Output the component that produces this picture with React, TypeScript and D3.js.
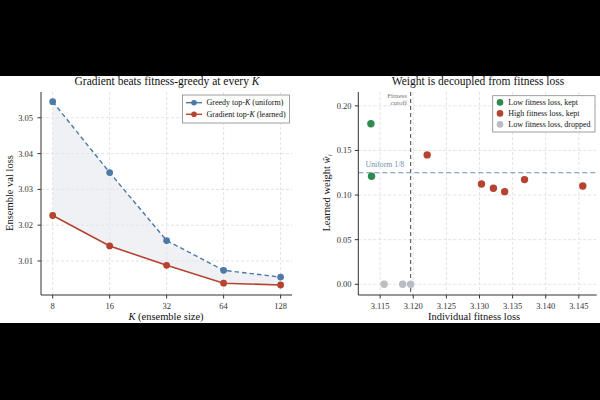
import { useEffect, useRef } from 'react';
import * as d3 from 'd3';

const ensembleSizes = [8, 16, 32, 64, 128];
const greedyLoss = [3.0545, 3.0347, 3.0157, 3.0074, 3.0055];
const gradientLoss = [3.0227, 3.0142, 3.0088, 3.0038, 3.0033];
const lossTicks = [3.01, 3.02, 3.03, 3.04, 3.05];

const fitnessLoss = [3.1136, 3.1137, 3.1221, 3.1303, 3.1321, 3.1338, 3.1368, 3.1456, 3.1156, 3.1184, 3.1196];
const learnedWeight = [0.18, 0.121, 0.145, 0.1124, 0.1076, 0.1038, 0.1173, 0.1102, 0, 0, 0];
const pointGroup = ['low', 'low', 'high', 'high', 'high', 'high', 'high', 'high', 'dropped', 'dropped', 'dropped'];
const fitnessTicks = [3.115, 3.12, 3.125, 3.13, 3.135, 3.14, 3.145];
const weightTicks = [0, 0.05, 0.1, 0.15, 0.2];
const fitnessCutoff = 3.1196;
const uniformWeight = 1 / 8;

const groupLabels = ['Low fitness loss, kept', 'High fitness loss, kept', 'Low fitness loss, dropped'];
const groupKeys = ['low', 'high', 'dropped'];

const BLUE = '#4e79a7';
const RED = '#b5432f';
const GREEN = '#2e8b4f';
const GRAY = '#b9bec4';
const FONT = '"Liberation Serif", "DejaVu Serif", serif';

export default function App() {
  const ref = useRef<SVGSVGElement>(null);

  useEffect(() => {
    if (!ref.current) return;
    const svg = d3.select(ref.current);
    svg.selectAll('*').remove();

    svg.append('rect').attr('width', 600).attr('height', 400).attr('fill', '#000');
    svg.append('rect').attr('y', 76).attr('width', 600).attr('height', 247).attr('fill', '#fff');

    const grid = (g: d3.Selection<SVGGElement, unknown, null, undefined>, x1: number, y1: number, x2: number, y2: number) =>
      g.append('line')
        .attr('x1', x1).attr('y1', y1).attr('x2', x2).attr('y2', y2)
        .attr('stroke', '#dcdcdc').attr('stroke-width', 0.8).attr('stroke-dasharray', '3,2');

    const spines = (g: d3.Selection<SVGGElement, unknown, null, undefined>, x0: number, x1: number, y0: number, y1: number) => {
      g.append('line').attr('x1', x0).attr('x2', x0).attr('y1', y0).attr('y2', y1).attr('stroke', '#333').attr('stroke-width', 1);
      g.append('line').attr('x1', x0).attr('x2', x1).attr('y1', y1).attr('y2', y1).attr('stroke', '#333').attr('stroke-width', 1);
    };

    // ---- left panel: ensemble loss vs K
    const L = svg.append('g');
    const x = d3.scaleLog().base(2).domain([8 / Math.pow(2, 0.205), 128 * Math.pow(2, 0.2)]).range([41, 292]);
    const y = d3.scaleLinear().domain([3.0005, 3.0572]).range([295, 92]);

    ensembleSizes.forEach((k) => grid(L, x(k), 92, x(k), 295));
    lossTicks.forEach((t) => grid(L, 41, y(t), 292, y(t)));

    const pts = ensembleSizes.map((k, i) => ({ k, g: greedyLoss[i], r: gradientLoss[i] }));
    const band = d3.area<typeof pts[number]>()
      .x((d) => x(d.k)).y0((d) => y(d.r)).y1((d) => y(d.g));
    L.append('path').datum(pts).attr('d', band).attr('fill', '#e4e8ec').attr('opacity', 0.6);

    const greedyLine = d3.line<typeof pts[number]>().x((d) => x(d.k)).y((d) => y(d.g));
    const gradLine = d3.line<typeof pts[number]>().x((d) => x(d.k)).y((d) => y(d.r));
    L.append('path').datum(pts).attr('d', greedyLine).attr('fill', 'none')
      .attr('stroke', BLUE).attr('stroke-width', 1.4).attr('stroke-dasharray', '4.5,3');
    L.append('path').datum(pts).attr('d', gradLine).attr('fill', 'none')
      .attr('stroke', RED).attr('stroke-width', 1.6);
    L.selectAll('circle.g').data(pts).enter().append('circle')
      .attr('cx', (d) => x(d.k)).attr('cy', (d) => y(d.g)).attr('r', 3.4).attr('fill', BLUE);
    L.selectAll('circle.r').data(pts).enter().append('circle')
      .attr('cx', (d) => x(d.k)).attr('cy', (d) => y(d.r)).attr('r', 3.4).attr('fill', RED);

    spines(L, 41, 292, 92, 295);

    L.selectAll('.xt').data(ensembleSizes).enter().append('line')
      .attr('x1', (d) => x(d)).attr('x2', (d) => x(d)).attr('y1', 295).attr('y2', 298.5).attr('stroke', '#333');
    L.selectAll('.xl').data(ensembleSizes).enter().append('text')
      .attr('x', (d) => x(d)).attr('y', 308.5).attr('text-anchor', 'middle')
      .attr('font-size', 8.5).attr('fill', '#333').attr('font-family', FONT).text((d) => d);
    L.selectAll('.yt').data(lossTicks).enter().append('line')
      .attr('x1', 37.5).attr('x2', 41).attr('y1', (d) => y(d)).attr('y2', (d) => y(d)).attr('stroke', '#333');
    L.selectAll('.yl').data(lossTicks).enter().append('text')
      .attr('x', 33).attr('y', (d) => y(d) + 3).attr('text-anchor', 'end')
      .attr('font-size', 8.5).attr('fill', '#333').attr('font-family', FONT).text((d) => d.toFixed(2));

    const lt = L.append('text').attr('x', 167).attr('y', 85).attr('text-anchor', 'middle')
      .attr('font-size', 11.5).attr('font-family', FONT).attr('fill', '#111');
    lt.append('tspan').text('Gradient beats fitness-greedy at every ');
    lt.append('tspan').attr('font-style', 'italic').text('K');

    const lx = L.append('text').attr('x', 166).attr('y', 320).attr('text-anchor', 'middle')
      .attr('font-size', 10.5).attr('font-family', FONT).attr('fill', '#111');
    lx.append('tspan').attr('font-style', 'italic').text('K');
    lx.append('tspan').text(' (ensemble size)');

    L.append('text').attr('transform', 'translate(13,193) rotate(-90)').attr('text-anchor', 'middle')
      .attr('font-size', 10.5).attr('font-family', FONT).attr('fill', '#111').text('Ensemble val loss');

    // legend
    L.append('rect').attr('x', 182.5).attr('y', 95).attr('width', 107).attr('height', 28)
      .attr('fill', '#fff').attr('stroke', '#888').attr('stroke-width', 0.8);
    [
      { c: BLUE, pre: 'Greedy top-', post: ' (uniform)' },
      { c: RED, pre: 'Gradient top-', post: ' (learned)' },
    ].forEach((e, i) => {
      const ly = 102.7 + i * 11.6;
      L.append('line').attr('x1', 186).attr('x2', 202).attr('y1', ly).attr('y2', ly).attr('stroke', e.c).attr('stroke-width', 1.4);
      L.append('circle').attr('cx', 194).attr('cy', ly).attr('r', 2.8).attr('fill', e.c);
      const t = L.append('text').attr('x', 206.5).attr('y', ly + 2.7)
        .attr('font-size', 8).attr('font-family', FONT).attr('fill', '#111');
      t.append('tspan').text(e.pre);
      t.append('tspan').attr('font-style', 'italic').text('K');
      t.append('tspan').text(e.post);
    });

    // ---- right panel: learned weight vs fitness loss
    const R = svg.append('g');
    const x2 = d3.scaleLinear().domain([3.1117, 3.1477]).range([358.3, 596.7]);
    const y2 = d3.scaleLinear().domain([-0.012, 0.2155]).range([295, 92]);

    fitnessTicks.forEach((t) => grid(R, x2(t), 92, x2(t), 295));
    weightTicks.forEach((t) => grid(R, 358.3, y2(t), 596.7, y2(t)));

    R.append('line').attr('x1', x2(fitnessCutoff)).attr('x2', x2(fitnessCutoff)).attr('y1', 92).attr('y2', 295)
      .attr('stroke', '#666').attr('stroke-width', 1.2).attr('stroke-dasharray', '4,3');
    R.append('line').attr('x1', 358.3).attr('x2', 596.7).attr('y1', y2(uniformWeight)).attr('y2', y2(uniformWeight))
      .attr('stroke', '#6f8fb3').attr('stroke-width', 1.2).attr('stroke-dasharray', '5,3');

    const colorOf: Record<string, string> = { low: GREEN, high: RED, dropped: GRAY };
    const scatter = fitnessLoss.map((f, i) => ({ f, w: learnedWeight[i], g: pointGroup[i] }));
    R.selectAll('circle.p').data(scatter).enter().append('circle')
      .attr('cx', (d) => x2(d.f)).attr('cy', (d) => y2(d.w)).attr('r', 3.7)
      .attr('fill', (d) => colorOf[d.g]);

    spines(R, 358.3, 596.7, 92, 295);

    R.selectAll('.xt').data(fitnessTicks).enter().append('line')
      .attr('x1', (d) => x2(d)).attr('x2', (d) => x2(d)).attr('y1', 295).attr('y2', 298.5).attr('stroke', '#333');
    R.selectAll('.xl').data(fitnessTicks).enter().append('text')
      .attr('x', (d) => x2(d)).attr('y', 308.5).attr('text-anchor', 'middle')
      .attr('font-size', 8.5).attr('fill', '#333').attr('font-family', FONT).text((d) => d.toFixed(3));
    R.selectAll('.yt').data(weightTicks).enter().append('line')
      .attr('x1', 354.8).attr('x2', 358.3).attr('y1', (d) => y2(d)).attr('y2', (d) => y2(d)).attr('stroke', '#333');
    R.selectAll('.yl').data(weightTicks).enter().append('text')
      .attr('x', 351.5).attr('y', (d) => y2(d) + 3).attr('text-anchor', 'end')
      .attr('font-size', 8.5).attr('fill', '#333').attr('font-family', FONT).text((d) => d.toFixed(2));

    R.append('text').attr('x', 478).attr('y', 85).attr('text-anchor', 'middle')
      .attr('font-size', 11.5).attr('font-family', FONT).attr('fill', '#111').text('Weight is decoupled from fitness loss');
    R.append('text').attr('x', 474).attr('y', 320).attr('text-anchor', 'middle')
      .attr('font-size', 10.5).attr('font-family', FONT).attr('fill', '#111').text('Individual fitness loss');
    const ry = R.append('text').attr('transform', 'translate(330,193) rotate(-90)').attr('text-anchor', 'middle')
      .attr('font-size', 10.5).attr('font-family', FONT).attr('fill', '#111');
    ry.append('tspan').text('Learned weight ');
    ry.append('tspan').attr('font-style', 'italic').text('ŵ');
    ry.append('tspan').attr('font-style', 'italic').attr('font-size', 7).attr('dy', 2).text('i');

    // cutoff label, two lines
    const cut = R.append('text').attr('text-anchor', 'end')
      .attr('font-size', 7).attr('font-family', FONT).attr('fill', '#777');
    cut.append('tspan').attr('x', 407).attr('y', 97.5).text('Fitness');
    cut.append('tspan').attr('x', 407).attr('dy', 7).text('cutoff');
    R.append('text').attr('x', 365.5).attr('y', 166.5)
      .attr('font-size', 7.8).attr('font-family', FONT).attr('fill', '#6f8fb3').text('Uniform 1/8');

    R.append('rect').attr('x', 492.7).attr('y', 95.7).attr('width', 102.3).attr('height', 36.3)
      .attr('fill', '#fff').attr('stroke', '#888').attr('stroke-width', 0.8);
    groupKeys.forEach((k, i) => {
      const ly = 102.4 + i * 11;
      R.append('circle').attr('cx', 500).attr('cy', ly).attr('r', 3.3).attr('fill', colorOf[k]);
      R.append('text').attr('x', 508.3).attr('y', ly + 2.7)
        .attr('font-size', 8).attr('font-family', FONT).attr('fill', '#111').text(groupLabels[i]);
    });

    return () => {
      svg.selectAll('*').remove();
    };
  }, []);

  return (
    <div style={{ position: 'fixed', left: 0, top: 0, width: 600, height: 400 }}>
      <svg ref={ref} width={600} height={400} style={{ display: 'block' }} />
    </div>
  );
}
